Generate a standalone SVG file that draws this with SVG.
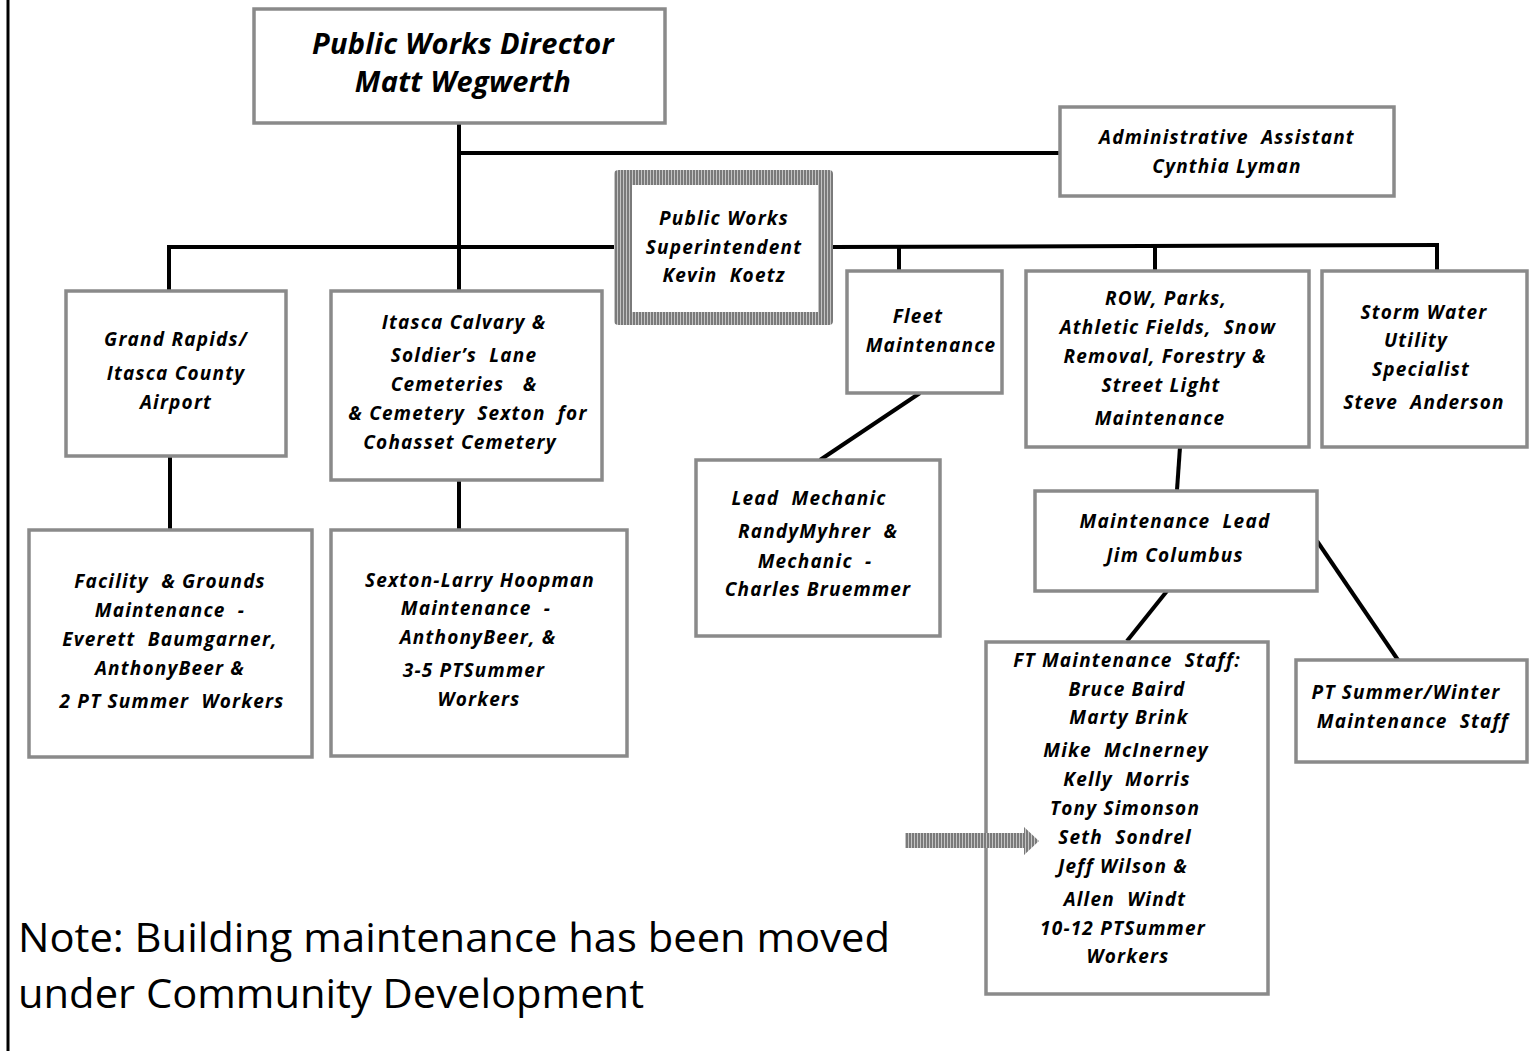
<svg xmlns="http://www.w3.org/2000/svg" width="1535" height="1051" viewBox="0 0 1535 1051" xml:space="preserve">
<defs>
<pattern id="stripes" width="3" height="3" patternUnits="userSpaceOnUse">
<rect width="3" height="3" fill="#c4c4c4"/>
<rect width="2" height="3" fill="#7a7a7a"/>
</pattern>
<style>
.box{fill:#fff;stroke:#8a8a8a;stroke-width:3.5}
.ln{stroke:#000;stroke-width:4;fill:none}
.t{font-family:"Open Sans","Noto Sans",sans-serif;font-style:italic;font-weight:bold;font-size:19px;text-anchor:middle;letter-spacing:1.2px;fill:#000;white-space:pre}
.big{font-size:29px;letter-spacing:0.3px}
.note{font-family:"Open Sans","Noto Sans",sans-serif;font-size:41px;fill:#000}
</style>
</defs>
<rect width="1535" height="1051" fill="#fff"/>
<line x1="8" y1="0" x2="8" y2="1051" stroke="#000" stroke-width="3"/>
<g id="connectors">
<line class="ln" x1="459" y1="123" x2="459" y2="290"/>
<line class="ln" x1="459" y1="153" x2="1060" y2="153"/>
<line class="ln" x1="167" y1="247" x2="616" y2="247"/>
<line class="ln" x1="832" y1="247" x2="1439" y2="245"/>
<line class="ln" x1="169" y1="245" x2="169" y2="290"/>
<line class="ln" x1="899" y1="246" x2="899" y2="270"/>
<line class="ln" x1="1155" y1="245" x2="1155" y2="270"/>
<line class="ln" x1="1437" y1="243" x2="1437" y2="270"/>
<line class="ln" x1="170" y1="456" x2="170" y2="529"/>
<line class="ln" x1="459" y1="480" x2="459" y2="529"/>
<line class="ln" x1="920" y1="393" x2="820" y2="460"/>
<line class="ln" x1="1180" y1="447" x2="1177" y2="490"/>
<line class="ln" x1="1167" y1="591" x2="1127" y2="641"/>
<line class="ln" x1="1317" y1="541" x2="1398" y2="660"/>
</g>
<g id="director">
<rect class="box" x="254" y="9" width="411" height="114"/>
<text class="t big" x="463" y="54">Public Works Director</text>
<text class="t big" x="463" y="92">Matt Wegwerth</text>
</g>
<g id="admin">
<rect class="box" x="1060" y="107" width="334" height="89"/>
<text class="t" x="1227" y="144">Administrative  Assistant</text>
<text class="t" x="1227" y="173">Cynthia Lyman</text>
</g>
<g id="superintendent">
<path d="M619,170 H829 Q833,170 833,174 V321 Q833,325 829,325 H619 Q614,325 614,321 V174 Q614,170 619,170 Z M632,185 V312 H818 V185 Z" fill="url(#stripes)" fill-rule="evenodd"/>
<rect x="632" y="185" width="186" height="127" fill="#fff"/>
<text class="t" x="724" y="225">Public Works</text>
<text class="t" x="724" y="254">Superintendent</text>
<text class="t" x="724" y="282">Kevin  Koetz</text>
</g>
<g id="airport">
<rect class="box" x="66" y="291" width="220" height="165"/>
<text class="t" x="176" y="346">Grand Rapids/</text>
<text class="t" x="176" y="380">Itasca County</text>
<text class="t" x="176" y="409">Airport</text>
</g>
<g id="facility">
<rect class="box" x="29" y="530" width="283" height="227"/>
<text class="t" x="170" y="588">Facility  &amp; Grounds</text>
<text class="t" x="170" y="617">Maintenance  -</text>
<text class="t" x="170" y="646">Everett  Baumgarner,</text>
<text class="t" x="170" y="675">AnthonyBeer &amp;</text>
<text class="t" x="172" y="708">2 PT Summer  Workers</text>
</g>
<g id="cemetery">
<rect class="box" x="331" y="291" width="271" height="189"/>
<text class="t" x="464" y="329">Itasca Calvary &amp;</text>
<text class="t" x="464" y="362">Soldier’s  Lane</text>
<text class="t" x="464" y="391">Cemeteries   &amp;</text>
<text class="t" x="468" y="420">&amp; Cemetery  Sexton  for</text>
<text class="t" x="460" y="449">Cohasset Cemetery</text>
</g>
<g id="sexton">
<rect class="box" x="331" y="530" width="296" height="226"/>
<text class="t" x="480" y="587">Sexton-Larry Hoopman</text>
<text class="t" x="476" y="615">Maintenance  -</text>
<text class="t" x="478" y="644">AnthonyBeer, &amp;</text>
<text class="t" x="474" y="677">3-5 PTSummer</text>
<text class="t" x="479" y="706">Workers</text>
</g>
<g id="fleet">
<rect class="box" x="847" y="271" width="155" height="122"/>
<text class="t" x="918" y="323">Fleet</text>
<text class="t" x="931" y="352">Maintenance</text>
</g>
<g id="mechanic">
<rect class="box" x="696" y="460" width="244" height="176"/>
<text class="t" x="809" y="505">Lead  Mechanic</text>
<text class="t" x="818" y="538">RandyMyhrer  &amp;</text>
<text class="t" x="815" y="568">Mechanic  -</text>
<text class="t" x="818" y="596">Charles Bruemmer</text>
</g>
<g id="row">
<rect class="box" x="1026" y="271" width="283" height="176"/>
<text class="t" x="1166" y="305">ROW, Parks,</text>
<text class="t" x="1168" y="334">Athletic Fields,  Snow</text>
<text class="t" x="1165" y="363">Removal, Forestry &amp;</text>
<text class="t" x="1161" y="392">Street Light</text>
<text class="t" x="1160" y="425">Maintenance</text>
</g>
<g id="stormwater">
<rect class="box" x="1322" y="271" width="205" height="176"/>
<text class="t" x="1424" y="319">Storm Water</text>
<text class="t" x="1416" y="347">Utility</text>
<text class="t" x="1421" y="376">Specialist</text>
<text class="t" x="1424" y="409">Steve  Anderson</text>
</g>
<g id="mainlead">
<rect class="box" x="1035" y="491" width="282" height="100"/>
<text class="t" x="1175" y="528">Maintenance  Lead</text>
<text class="t" x="1175" y="562">Jim Columbus</text>
</g>
<g id="ftstaff">
<rect class="box" x="986" y="642" width="282" height="352"/>
<text class="t" x="1127" y="667">FT Maintenance  Staff:</text>
<text class="t" x="1127" y="696">Bruce Baird</text>
<text class="t" x="1129" y="724">Marty Brink</text>
<text class="t" x="1126" y="757">Mike  McInerney</text>
<text class="t" x="1127" y="786">Kelly  Morris</text>
<text class="t" x="1125" y="815">Tony Simonson</text>
<text class="t" x="1125" y="844">Seth  Sondrel</text>
<text class="t" x="1123" y="873">Jeff Wilson &amp;</text>
<text class="t" x="1125" y="906">Allen  Windt</text>
<text class="t" x="1123" y="935">10-12 PTSummer</text>
<text class="t" x="1128" y="963">Workers</text>
</g>
<g id="ptstaff">
<rect class="box" x="1296" y="660" width="231" height="102"/>
<text class="t" x="1406" y="699">PT Summer/Winter</text>
<text class="t" x="1413" y="728">Maintenance  Staff</text>
</g>
<g id="arrow">
<path d="M905,833 H1024 V827 L1039,841 L1024,855 V848 H905 Z" fill="url(#stripes)"/>
</g>
<g id="note">
<text class="note" x="18" y="952" textLength="872" lengthAdjust="spacingAndGlyphs">Note: Building maintenance has been moved</text>
<text class="note" x="18" y="1008" textLength="626" lengthAdjust="spacingAndGlyphs">under Community Development</text>
</g>
</svg>
